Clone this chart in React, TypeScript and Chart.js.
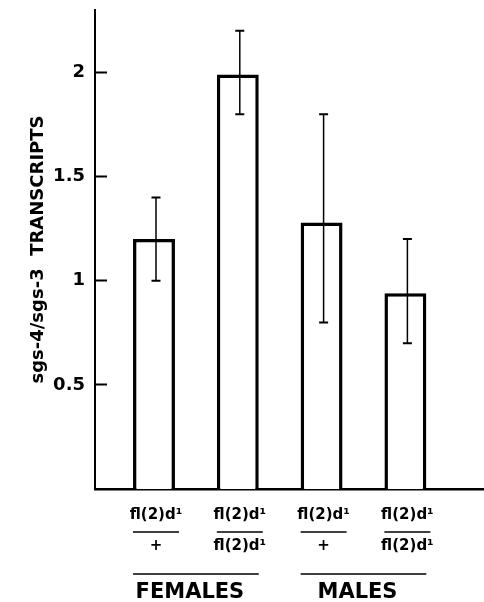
import React, { useEffect, useRef } from 'react';
import { Chart, registerables } from 'chart.js';

Chart.register(...registerables);

// ---- data ----
const numerators = ['fl(2)d¹', 'fl(2)d¹', 'fl(2)d¹', 'fl(2)d¹'];
const denominators = ['+', 'fl(2)d¹', '+', 'fl(2)d¹'];
const xPositions = [1, 2, 3, 4];
const values = [1.2, 1.99, 1.28, 0.94];
const errLow = [1.0, 1.8, 0.8, 0.7];
const errHigh = [1.4, 2.2, 1.8, 1.2];
const yTicks = [0.5, 1, 1.5, 2];
const groupNames = ['FEMALES', 'MALES'];
const groupMembers = [[0, 1], [2, 3]];
const yTitle = 'sgs-4/sgs-3  TRANSCRIPTS';

const FONT = '"DejaVu Sans", sans-serif';

export default function App() {
  const ref = useRef<HTMLCanvasElement>(null);

  useEffect(() => {
    const canvas = ref.current;
    if (!canvas) return;

    const labelPlugin = {
      id: 'customLabels',
      afterDatasetsDraw(chart: any) {
        const c = chart.ctx as CanvasRenderingContext2D;
        const y = chart.scales.y;
        const meta = chart.getDatasetMeta(0);
        const base = chart.chartArea.bottom;
        c.save();
        c.strokeStyle = '#000';
        c.fillStyle = '#000';

        // error bars
        values.forEach((_v, i) => {
          const el: any = meta.data[i];
          const px = el.x + 2;
          const yl = y.getPixelForValue(errLow[i]);
          const yh = y.getPixelForValue(errHigh[i]);
          c.lineWidth = 1.5;
          c.beginPath();
          c.moveTo(px, yl);
          c.lineTo(px, yh);
          c.stroke();
          c.lineWidth = 2;
          c.beginPath();
          c.moveTo(px - 4.5, yl);
          c.lineTo(px + 4.5, yl);
          c.moveTo(px - 4.5, yh);
          c.lineTo(px + 4.5, yh);
          c.stroke();
        });

        // fraction labels
        c.font = `bold 15px ${FONT}`;
        c.textAlign = 'center';
        c.textBaseline = 'middle';
        numerators.forEach((num, i) => {
          const el: any = meta.data[i];
          const cx = el.x + 2;
          c.fillText(num, cx, base + 26);
          c.lineWidth = 1.5;
          c.beginPath();
          c.moveTo(cx - 23, base + 43);
          c.lineTo(cx + 23, base + 43);
          c.stroke();
          c.fillText(denominators[i], cx, base + 57);
        });

        // group lines and names
        c.font = `bold 21px ${FONT}`;
        groupNames.forEach((g, gi) => {
          const members = groupMembers[gi];
          const first: any = meta.data[members[0]];
          const last: any = meta.data[members[members.length - 1]];
          const x1 = first.x - first.width / 2;
          const x2 = last.x + last.width / 2;
          c.lineWidth = 1.5;
          c.beginPath();
          c.moveTo(x1, base + 85);
          c.lineTo(x2, base + 85);
          c.stroke();
          c.fillText(g, (x1 + x2) / 2 - 6, base + 104);
        });
        c.restore();
      },
    };

    const chart = new Chart(canvas, {
      type: 'bar',
      data: {
        datasets: [
          {
            data: xPositions.map((p, i) => ({ x: p, y: values[i] })),
            backgroundColor: '#ffffff',
            borderColor: '#000000',
            borderWidth: 3.5,
            borderSkipped: 'start',
            categoryPercentage: 1,
            barPercentage: 0.5,
          } as any,
        ],
      },
      options: {
        responsive: false,
        animation: false,
        devicePixelRatio: 1,
        layout: { padding: { top: 10, left: 0, right: 0, bottom: 0 } },
        plugins: { legend: { display: false }, tooltip: { enabled: false } },
        scales: {
          x: {
            type: 'linear',
            min: 0.296,
            max: 4.938,
            offset: false,
            grid: { display: false },
            ticks: { display: false },
            border: { display: true, color: '#000', width: 2.5 },
            afterBuildTicks: (s: any) => {
              s.ticks = xPositions.map((v) => ({ value: v }));
            },
            afterFit: (s: any) => {
              s.height = 113;
              s.paddingLeft = 0;
              s.paddingRight = 0;
            },
          },
          y: {
            type: 'linear',
            min: 0,
            max: 2.3,
            afterBuildTicks: (s: any) => {
              s.ticks = yTicks.map((v) => ({ value: v }));
            },
            ticks: {
              padding: 22,
              color: '#000',
              font: { family: FONT, size: 18, weight: 'bold' },
              callback: (v: any) => String(v),
            },
            grid: {
              drawOnChartArea: false,
              drawTicks: true,
              tickLength: -12,
              tickColor: '#000',
              tickWidth: 2,
            },
            border: { display: true, color: '#000', width: 2 },
            title: {
              display: true,
              text: yTitle,
              color: '#000',
              font: { family: FONT, size: 18, weight: 'bold' },
              padding: { top: 28, bottom: 0 },
            },
            afterFit: (s: any) => {
              s.width = 95;
              s.paddingTop = 0;
              s.paddingBottom = 0;
            },
          },
        },
      } as any,
      plugins: [labelPlugin],
    });

    return () => chart.destroy();
  }, []);

  return (
    <canvas
      ref={ref}
      width={484}
      height={602}
      style={{ position: 'absolute', left: 0, top: 0, display: 'block', background: '#fff' }}
    />
  );
}
